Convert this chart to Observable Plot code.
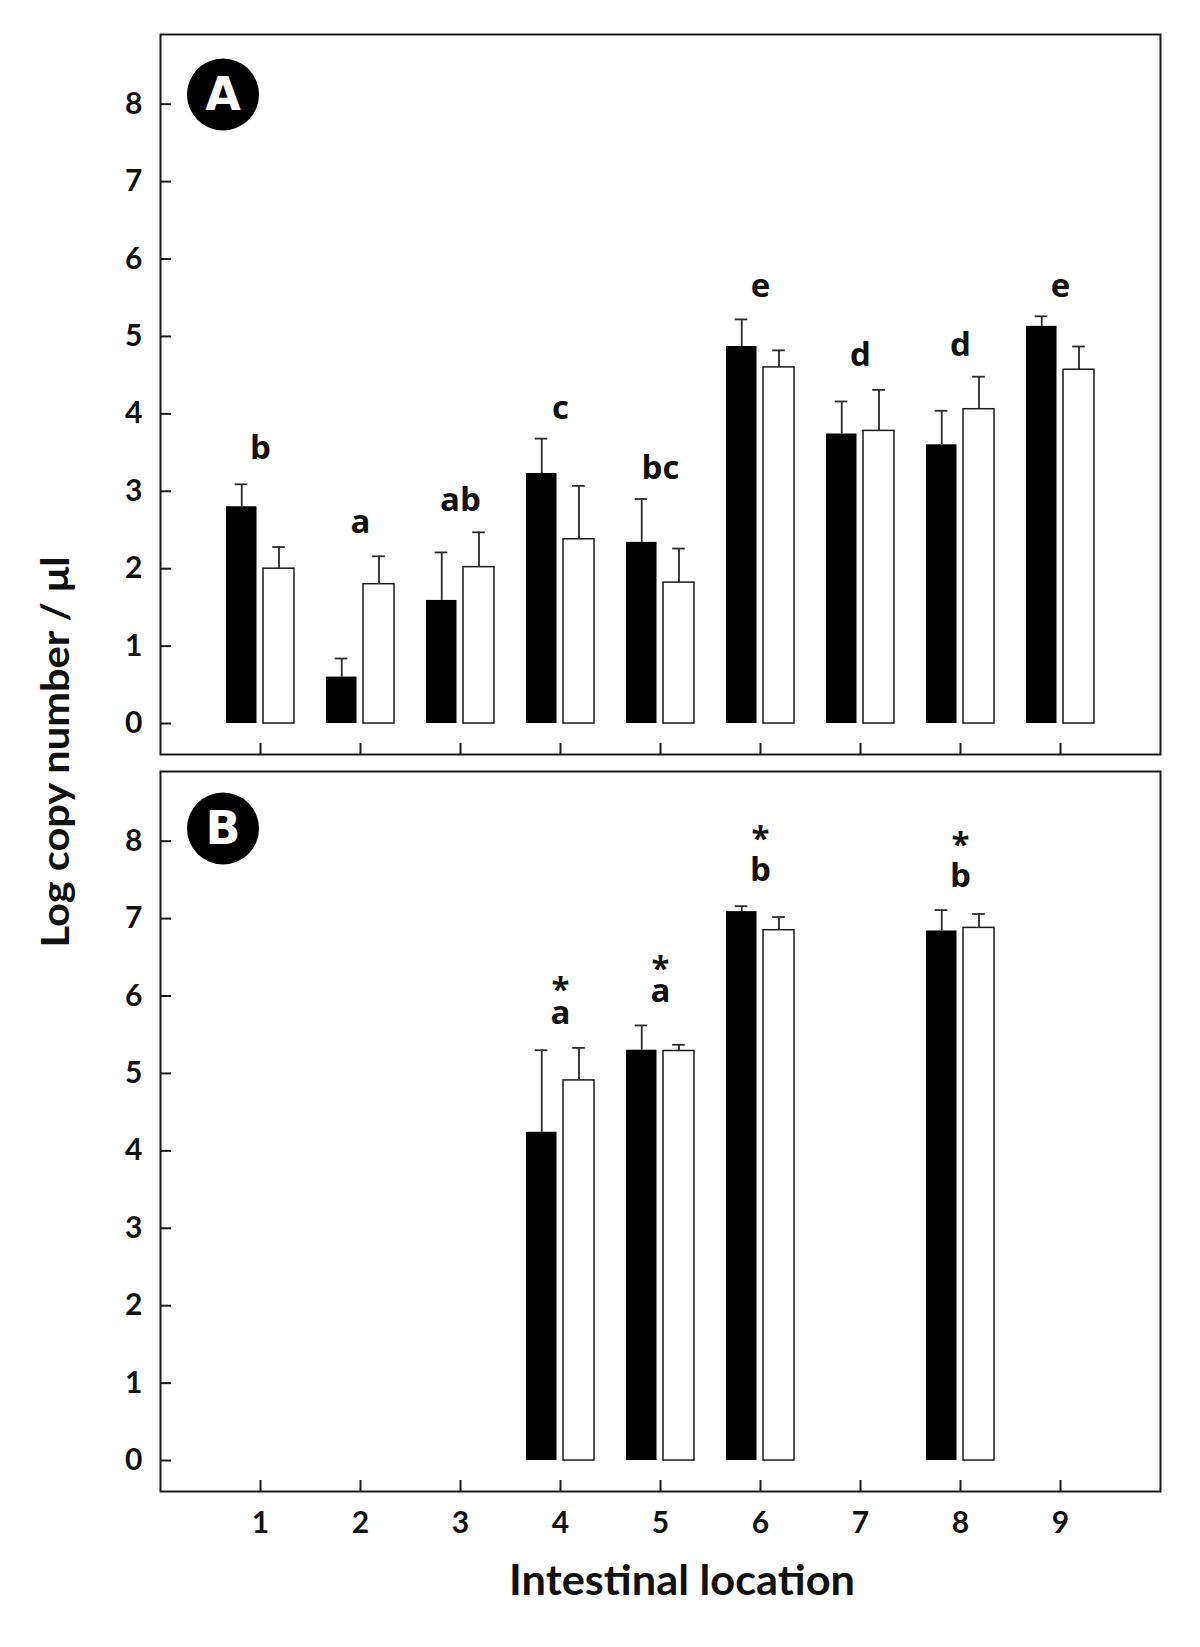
<!DOCTYPE html>
<html>
<head>
<meta charset="utf-8">
<script src="https://cdn.jsdelivr.net/npm/d3@7"></script>
<script src="https://cdn.jsdelivr.net/npm/@observablehq/plot@0.6"></script>
<style>
  html, body { margin: 0; padding: 0; background: #fff; }
  #fig { position: relative; width: 1200px; height: 1647px; background: #fff; overflow: hidden; }
  #fig > svg { position: absolute; left: 0; }
</style>
</head>
<body>
<div id="fig"></div>
<script>
// ---------- data ----------
const locations = [1, 2, 3, 4, 5, 6, 7, 8, 9];
const yTicks = [0, 1, 2, 3, 4, 5, 6, 7, 8];

// Panel A
const aBlack   = [2.80, 0.60, 1.59, 3.23, 2.34, 4.87, 3.74, 3.60, 5.13];
const aBlackSE = [0.29, 0.24, 0.62, 0.45, 0.56, 0.35, 0.42, 0.44, 0.13];
const aWhite   = [2.00, 1.80, 2.02, 2.38, 1.82, 4.60, 3.78, 4.06, 4.57];
const aWhiteSE = [0.28, 0.36, 0.45, 0.69, 0.44, 0.22, 0.53, 0.42, 0.30];
const aLetters  = ["b", "a", "ab", "c", "bc", "e", "d", "d", "e"];
const aLetterY  = [3.55, 2.60, 2.88, 4.07, 3.30, 5.64, 4.76, 4.89, 5.64];

// Panel B
const bLocations = [4, 5, 6, 8];
const bBlack   = [4.24, 5.30, 7.09, 6.84];
const bBlackSE = [1.06, 0.32, 0.07, 0.27];
const bWhite   = [4.91, 5.29, 6.85, 6.88];
const bWhiteSE = [0.42, 0.08, 0.17, 0.18];
// significance mark (*) above the group letter; y = baseline of the letter
const bLabels  = ["*\na", "*\na", "*\nb", "*\nb"];
const bLabelY  = [5.64, 5.92, 7.49, 7.41];

const yLabel = "Log copy number / μl";
const xLabel = "Intestinal location";

// ---------- helpers ----------
const rows = (locs, vals, ses) => locs.map((loc, i) => ({loc, value: vals[i], top: vals[i] + ses[i]}));
const labels = (locs, texts, ys) => locs.map((loc, i) => ({loc, text: texts[i], y: ys[i]}));

const ink = "#1a1a1a";
const errInk = "#2a2a2a";
const letterFont = {fontFamily: "'Open Sans', sans-serif", fontWeight: "bold", fontSize: 33, fill: "#111"};

function panel({black, white, letterMarks, tag, height, marginTop, marginBottom, showXLabels, tagDy}) {
  return Plot.plot({
    width: 1200,
    height,
    marginTop,
    marginBottom,
    marginLeft: 160,
    marginRight: 40,
    style: {fontFamily: "Lato, sans-serif", fontWeight: "bold", fontSize: "30px", color: "#111", background: "transparent", overflow: "visible"},
    x: {type: "band", domain: locations, paddingInner: 0, paddingOuter: 0.5},
    y: {domain: [-0.4, 8.9]},
    marks: [
      // bars
      Plot.barY(black, {x: "loc", y1: 0, y2: "value", fill: "black", insetLeft: 16, insetRight: 53.5}),
      Plot.barY(white, {x: "loc", y1: 0, y2: "value", fill: "white", stroke: ink, strokeWidth: 1.5, insetLeft: 53, insetRight: 16}),
      // error bars
      Plot.ruleX(black, {x: "loc", y1: "value", y2: "top", dx: -18.75, stroke: errInk, strokeWidth: 1.8}),
      Plot.tickY(black, {x: "loc", y: "top", insetLeft: 24.7, insetRight: 62.7, stroke: errInk, strokeWidth: 1.8}),
      Plot.ruleX(white, {x: "loc", y1: "value", y2: "top", dx: 18.5, stroke: errInk, strokeWidth: 1.8}),
      Plot.tickY(white, {x: "loc", y: "top", insetLeft: 62.2, insetRight: 25.2, stroke: errInk, strokeWidth: 1.8}),
      // significance letters
      ...letterMarks,
      // panel tag
      Plot.dot([tag], {frameAnchor: "top-left", dx: 62.5, dy: tagDy, r: 36, fill: "black", stroke: "none"}),
      Plot.text([tag], {frameAnchor: "top-left", dx: 62.5, dy: tagDy + 1, text: d => d, textAnchor: "middle", lineAnchor: "middle", fill: "white", fontFamily: "'DejaVu Sans', sans-serif", fontWeight: "bold", fontSize: 46}),
      // axes (inward ticks)
      Plot.axisY({ticks: yTicks, tickSize: -11, strokeWidth: 2, stroke: ink, tickFormat: () => "", label: null}),
      Plot.axisY({ticks: yTicks, tickSize: 0, tickPadding: 18, fontSize: 30, label: null}),
      Plot.axisX({tickSize: -11, strokeWidth: 2, stroke: ink, tickFormat: () => "", label: null}),
      showXLabels ? Plot.axisX({tickSize: 0, tickPadding: 20, fontSize: 30, label: null}) : null,
      Plot.frame({stroke: ink, strokeWidth: 2})
    ]
  });
}

const fig = document.getElementById("fig");

const plotA = panel({
  black: rows(locations, aBlack, aBlackSE),
  white: rows(locations, aWhite, aWhiteSE),
  letterMarks: [
    Plot.text(labels(locations, aLetters, aLetterY), {x: "loc", y: "y", text: "text", ...letterFont})
  ],
  tag: "A",
  height: 762, marginTop: 34, marginBottom: 8,
  showXLabels: false, tagDy: 60
});
plotA.style.top = "0px";
fig.appendChild(plotA);

const bLab = labels(bLocations, bLabels, bLabelY);
const plotB = panel({
  black: rows(bLocations, bBlack, bBlackSE),
  white: rows(bLocations, bWhite, bWhiteSE),
  letterMarks: [
    Plot.text(bLab.filter(d => d.text.endsWith("a")), {x: "loc", y: "y", text: "text", lineAnchor: "bottom", lineHeight: 0.68, ...letterFont}),
    Plot.text(bLab.filter(d => d.text.endsWith("b")), {x: "loc", y: "y", text: "text", lineAnchor: "bottom", lineHeight: 0.93, ...letterFont})
  ],
  tag: "B",
  height: 885, marginTop: 9, marginBottom: 156,
  showXLabels: true, tagDy: 57
});
plotB.style.top = "762px";
fig.appendChild(plotB);

// axis titles overlay
const titles = d3.create("svg")
  .attr("width", 1200).attr("height", 1647)
  .style("top", "0px").style("pointer-events", "none");
titles.append("text")
  .attr("transform", "translate(69,752) rotate(-90)")
  .attr("text-anchor", "middle")
  .attr("font-family", "Lato, sans-serif").attr("font-weight", "bold").attr("font-size", 39)
  .attr("fill", "#111")
  .attr("textLength", 391).attr("lengthAdjust", "spacingAndGlyphs")
  .text(yLabel);
titles.append("text")
  .attr("x", 682).attr("y", 1595)
  .attr("text-anchor", "middle")
  .attr("font-family", "Lato, sans-serif").attr("font-weight", "bold").attr("font-size", 42)
  .attr("fill", "#111")
  .attr("textLength", 346).attr("lengthAdjust", "spacingAndGlyphs")
  .text(xLabel);
fig.appendChild(titles.node());
</script>
</body>
</html>
